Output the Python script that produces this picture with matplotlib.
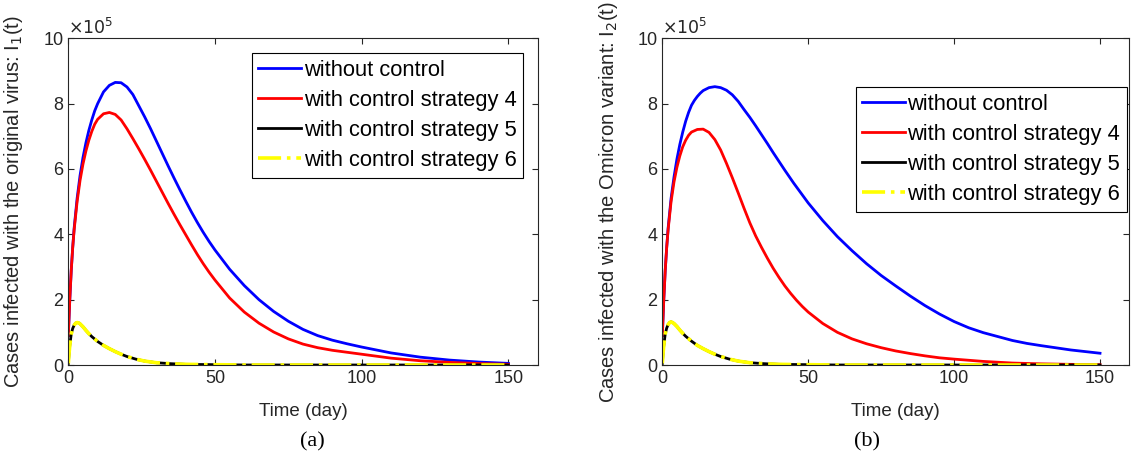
import numpy as np
from matplotlib import pyplot as plt

plt.rcParams['font.family'] = ['Liberation Sans', 'DejaVu Sans']

# values are in units of 1e5 cases
t_a = [0, 0.5, 1, 1.5, 2, 3, 4, 5, 6, 7, 8, 9, 10, 12, 14, 16, 18, 20, 22, 24, 26, 28, 30,
       32, 34, 36, 38, 40, 42, 44, 46, 48, 50, 55, 60, 65, 70, 75, 80, 85, 90, 95, 100,
       110, 120, 130, 140, 150]
blue_a = [0.9, 2.0, 2.9, 3.6, 4.2, 5.1, 5.8, 6.35, 6.8, 7.18, 7.5, 7.78, 8.0, 8.36, 8.56,
          8.65, 8.64, 8.51, 8.28, 7.94, 7.6, 7.24, 6.86, 6.48, 6.1, 5.73, 5.37, 5.02, 4.68,
          4.36, 4.06, 3.78, 3.52, 2.93, 2.43, 2.0, 1.64, 1.34, 1.09, 0.9, 0.76, 0.65, 0.55,
          0.37, 0.24, 0.15, 0.09, 0.05]
red_a = [0.9, 2.0, 2.9, 3.6, 4.15, 5.0, 5.65, 6.15, 6.55, 6.88, 7.15, 7.37, 7.52, 7.69,
         7.73, 7.67, 7.5, 7.23, 6.93, 6.62, 6.3, 5.97, 5.63, 5.29, 4.95, 4.62, 4.3, 3.99,
         3.68, 3.38, 3.1, 2.84, 2.6, 2.05, 1.62, 1.28, 1.01, 0.8, 0.64, 0.53, 0.45, 0.39,
         0.33, 0.21, 0.13, 0.08, 0.045, 0.02]

t_b = [0, 0.5, 1, 1.5, 2, 3, 4, 5, 6, 7, 8, 9, 10, 11, 12, 13, 14, 16, 18, 20, 22, 24, 26,
       28, 30, 32, 34, 36, 38, 40, 42, 45, 50, 55, 60, 65, 70, 75, 80, 85, 90, 95, 100,
       105, 110, 120, 125, 130, 140, 150]
blue_b = [0.9, 2.0, 2.9, 3.6, 4.2, 5.1, 5.75, 6.3, 6.75, 7.13, 7.46, 7.73, 7.95, 8.1, 8.22,
          8.32, 8.4, 8.49, 8.52, 8.49, 8.41, 8.27, 8.07, 7.82, 7.58, 7.32, 7.05, 6.78, 6.5,
          6.23, 5.96, 5.57, 4.96, 4.42, 3.93, 3.5, 3.1, 2.74, 2.42, 2.11, 1.82, 1.56, 1.33,
          1.14, 0.99, 0.75, 0.66, 0.59, 0.46, 0.36]

t_b_red = [0, 0.5, 1, 1.5, 2, 3, 4, 5, 6, 7, 8, 9, 10, 12, 14, 16, 18, 20, 22, 24, 26, 28,
           30, 32, 34, 36, 38, 40, 42, 44, 46, 48, 50, 55, 60, 65, 70, 75, 80, 85, 90, 95,
           100, 110, 120, 130, 140, 150]
red_b = [0.9, 2.0, 2.9, 3.6, 4.15, 5.0, 5.6, 6.05, 6.4, 6.68, 6.88, 7.03, 7.13, 7.21, 7.22,
         7.12, 6.9, 6.58, 6.17, 5.73, 5.27, 4.8, 4.35, 3.95, 3.6, 3.27, 2.96, 2.68, 2.42,
         2.19, 1.98, 1.79, 1.62, 1.27, 1.0, 0.8, 0.65, 0.53, 0.43, 0.35, 0.28, 0.22, 0.18,
         0.11, 0.06, 0.035, 0.02, 0.01]

t_low = [0, 0.25, 0.5, 1, 1.5, 2, 2.5, 3, 3.5, 4, 5, 6, 7, 8, 10, 12, 14, 16, 18, 20, 23,
         26, 30, 35, 40, 50, 60, 80, 100, 120, 150]
low_a = [0.05, 0.35, 0.6, 0.95, 1.12, 1.22, 1.28, 1.3, 1.29, 1.26, 1.17, 1.06, 0.96, 0.87,
         0.72, 0.6, 0.5, 0.41, 0.33, 0.26, 0.18, 0.12, 0.07, 0.04, 0.02, 0.01, 0.0, 0.0,
         0.0, 0.0, 0.0]
low_b = [0.05, 0.35, 0.6, 0.95, 1.13, 1.24, 1.3, 1.32, 1.3, 1.27, 1.18, 1.07, 0.97, 0.88,
         0.73, 0.6, 0.5, 0.41, 0.33, 0.26, 0.18, 0.12, 0.07, 0.04, 0.02, 0.01, 0.0, 0.0,
         0.0, 0.0, 0.0]

labels = ['without control', 'with control strategy 4',
          'with control strategy 5', 'with control strategy 6']
ylabels = ['Cases infected with the original virus: I$_1$(t)',
           'Cases infected with the Omicron variant: I$_2$(t)']
panels = ['(a)', '(b)']

gray = '#262626'
fig = plt.figure(figsize=(11.31, 4.55), dpi=100)
ax1 = fig.add_axes([0.0604, 0.1978, 0.415, 0.718])
ax2 = fig.add_axes([0.5856, 0.1978, 0.4128, 0.718])

data = [(ax1, t_a, blue_a, t_a, red_a, low_a, (0.969, 0.955), -0.092, 312),
        (ax2, t_b, blue_b, t_b_red, red_b, low_b, (0.995, 0.851), -0.09, 867)]

for k, (ax, tb, yb, tr, yr, yl, anchor, lx, px) in enumerate(data):
    ax.plot(tb, yb, color='blue', lw=2, label=labels[0])
    ax.plot(tr, yr, color='red', lw=2, label=labels[1])
    ax.plot(t_low, yl, color='black', lw=2, label=labels[2])
    ax.plot(t_low, yl, color='yellow', lw=2.6, ls='-.', label=labels[3])
    ax.set_xlim(0, 160)
    ax.set_ylim(0, 10)
    ax.set_xticks([0, 50, 100, 150])
    ax.set_yticks([0, 2, 4, 6, 8, 10])
    ax.tick_params(direction='in', top=True, right=True, labelsize=13,
                   colors=gray, length=4, width=0.8)
    for s in ax.spines.values():
        s.set_color(gray)
        s.set_linewidth(0.8)
    ax.set_xlabel('Time (day)', fontsize=13.5, color=gray)
    ax.xaxis.set_label_coords(0.5, -0.115)
    ax.set_ylabel(ylabels[k], fontsize=14.5, color=gray)
    ax.yaxis.set_label_coords(lx, 0.5)
    ax.text(0, 1.005, r'$\times10^{5}$', transform=ax.transAxes, fontsize=12.5,
            color=gray, ha='left', va='bottom')
    leg = ax.legend(loc='upper right', bbox_to_anchor=anchor, borderaxespad=0,
                    fontsize=15.75, handlelength=1.95, handletextpad=0.12,
                    labelspacing=0.42, fancybox=False, framealpha=1,
                    borderpad=0.3)
    leg.get_frame().set_edgecolor('black')
    leg.get_frame().set_linewidth(0.8)
    fig.text(px / 1131, (455 - 442) / 455, panels[k], fontsize=16,
             family='Liberation Serif', ha='center', va='center')

plt.savefig('out.png', dpi=100)
